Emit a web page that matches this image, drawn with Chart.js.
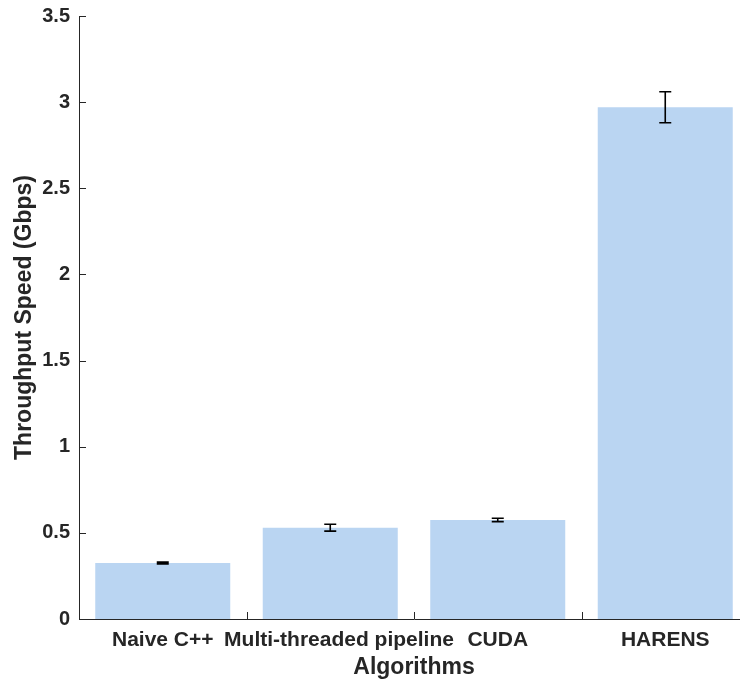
<!DOCTYPE html>
<html>
<head>
<meta charset="utf-8">
<script src="https://cdn.jsdelivr.net/npm/chart.js@4"></script>
<style>
  html, body { margin: 0; padding: 0; background: #fff; overflow: hidden; }
  #wrap { width: 740px; height: 679px; overflow: hidden; }
</style>
</head>
<body>
<div id="wrap"><canvas id="myChart" width="749" height="679"></canvas></div>
<script>
var algorithms = ['Naive C++', 'Multi-threaded pipeline', 'CUDA', 'HARENS'];
var speed = [0.325, 0.53, 0.575, 2.97];
var speedErr = [0.005, 0.02, 0.01, 0.09];
var yTicks = [0, 0.5, 1, 1.5, 2, 2.5, 3, 3.5];

var axisCol = '#262626';
var fontFam = '"Liberation Sans", Arial, sans-serif';

// error bars + inward tick marks, drawn from the chart's own scales
var extras = {
  id: 'extras',
  afterDatasetsDraw: function(chart) {
    var ctx = chart.ctx;
    var y = chart.scales.y;
    var x = chart.scales.x;
    var meta = chart.getDatasetMeta(0);
    ctx.save();
    ctx.strokeStyle = '#000';
    ctx.lineWidth = 1.6;
    meta.data.forEach(function(bar, i) {
      var top = y.getPixelForValue(speed[i] + speedErr[i]);
      var bot = y.getPixelForValue(speed[i] - speedErr[i]);
      var cap = 6;
      ctx.beginPath();
      ctx.moveTo(bar.x, top); ctx.lineTo(bar.x, bot);
      ctx.moveTo(bar.x - cap, top); ctx.lineTo(bar.x + cap, top);
      ctx.moveTo(bar.x - cap, bot); ctx.lineTo(bar.x + cap, bot);
      ctx.stroke();
    });
    // ticks
    ctx.strokeStyle = axisCol;
    ctx.lineWidth = 1;
    yTicks.forEach(function(v) {
      var py = Math.round(y.getPixelForValue(v)) + 0.5;
      ctx.beginPath();
      ctx.moveTo(x.left, py); ctx.lineTo(x.left + 7, py);
      ctx.stroke();
    });
    for (var i = 1; i < algorithms.length; i++) {
      var px = Math.round((x.getPixelForValue(i - 1) + x.getPixelForValue(i)) / 2) + 0.5;
      ctx.beginPath();
      ctx.moveTo(px, y.bottom); ctx.lineTo(px, y.bottom - 7);
      ctx.stroke();
    }
    ctx.restore();
  }
};

new Chart(document.getElementById('myChart'), {
  type: 'bar',
  data: {
    labels: algorithms,
    datasets: [{
      data: speed,
      backgroundColor: '#bad5f2',
      borderWidth: 0,
      barPercentage: 0.806,
      categoryPercentage: 1
    }]
  },
  options: {
    responsive: false,
    animation: false,
    layout: { padding: { top: 16, right: 0, left: 0, bottom: 0 } },
    plugins: { legend: { display: false }, tooltip: { enabled: false } },
    scales: {
      x: {
        grid: { display: false, drawTicks: false },
        border: { display: true, color: axisCol, width: 1 },
        ticks: { color: '#262626', font: { family: fontFam, size: 21, weight: 'bold' }, padding: 9, maxRotation: 0, autoSkip: false,
          // long label sits a bit right of its slot in the original
          callback: function(v, i) { return i === 1 ? '   ' + algorithms[i] : algorithms[i]; } },
        title: { display: true, text: 'Algorithms', color: '#262626', font: { family: fontFam, size: 23, weight: 'bold', lineHeight: 1 }, padding: { top: 0, bottom: 0 } },
        afterFit: function(s) { s.height = 60; s.paddingLeft = 0; s.paddingRight = 0; }
      },
      y: {
        min: 0, max: 3.5,
        afterBuildTicks: function(s) { s.ticks = yTicks.map(function(v) { return { value: v }; }); },
        grid: { display: false, drawTicks: false },
        border: { display: true, color: axisCol, width: 1 },
        ticks: { color: '#262626', font: { family: fontFam, size: 20, weight: 'bold' }, padding: 9,
          callback: function(v) { return String(v); } },
        title: { display: true, text: 'Throughput Speed (Gbps)', color: '#262626', font: { family: fontFam, size: 23, weight: 'bold', lineHeight: 1 }, padding: { top: 13, bottom: 0 } },
        afterFit: function(s) { s.width = 79; s.paddingTop = 0; s.paddingBottom = 0; }
      }
    }
  },
  plugins: [extras]
});
</script>
</body>
</html>
